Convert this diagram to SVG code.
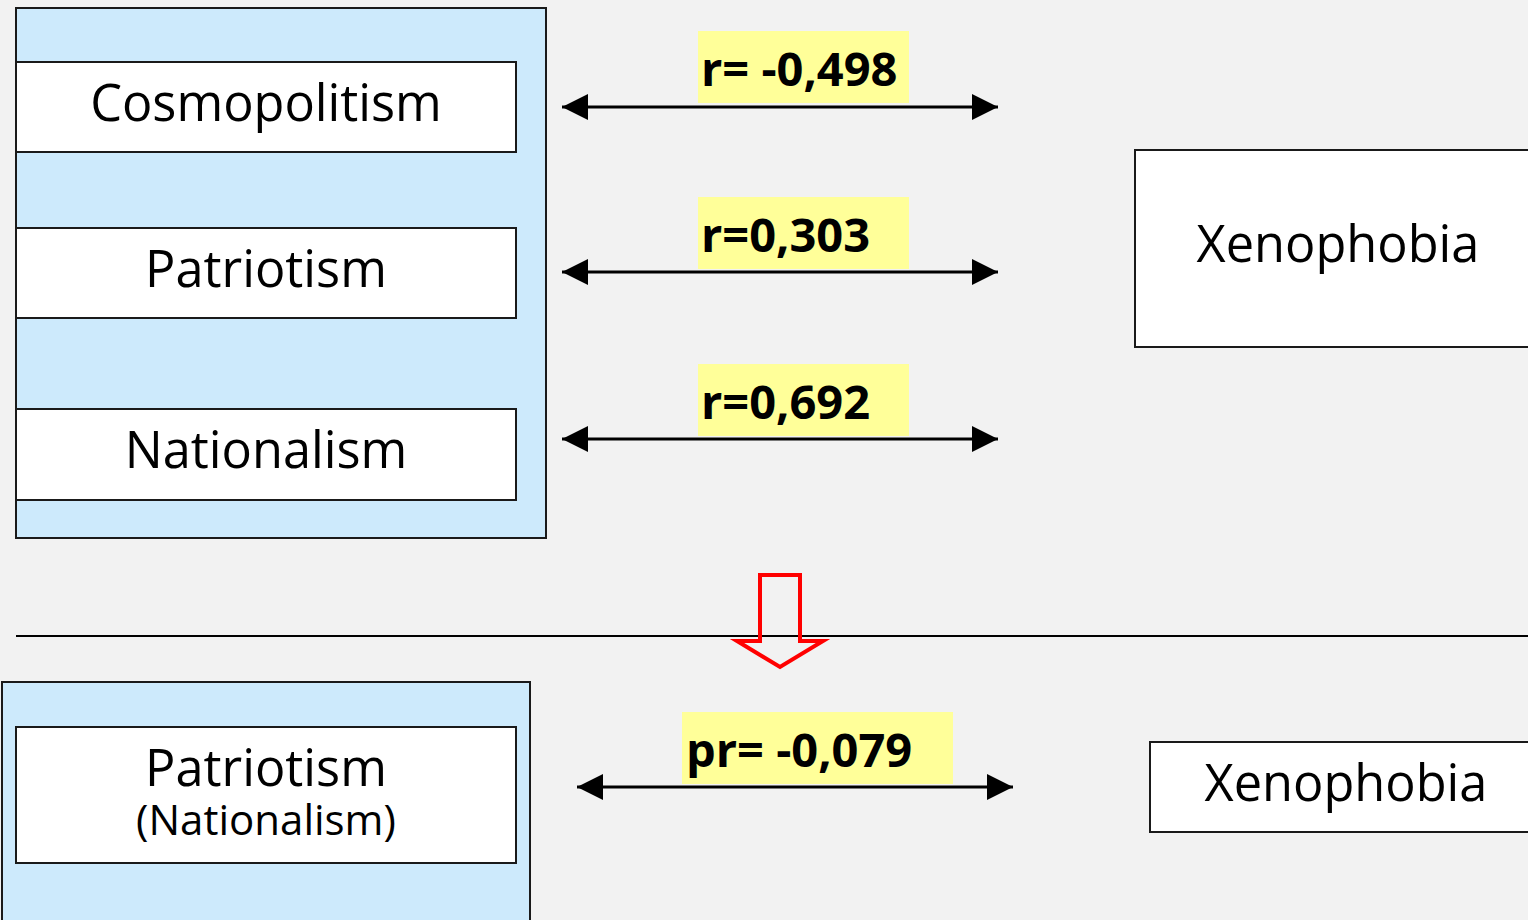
<svg xmlns="http://www.w3.org/2000/svg" width="1528" height="920" viewBox="0 0 1528 920">
<style>
.grp{fill:#cdeafc;stroke:#1a1a1a;stroke-width:2}
.box{fill:#ffffff;stroke:#1a1a1a;stroke-width:2}
.t{font-family:"Open Sans","Noto Sans",sans-serif;font-size:50.5px;fill:#000;text-anchor:middle}
.s{font-size:42px}
.lbl{fill:#ffff99}
.lt{font-family:"Open Sans","Noto Sans",sans-serif;font-size:47px;font-weight:bold;fill:#000}
.ar{stroke:#000;stroke-width:3;fill:none}
</style>
<defs>
<marker id="ah" viewBox="0 0 26 26" refX="26" refY="13" markerWidth="26" markerHeight="26" markerUnits="userSpaceOnUse" orient="auto-start-reverse">
<path d="M0,0 L26,13 L0,26 Z" fill="#000"/>
</marker>
</defs>
<rect width="1528" height="920" fill="#f2f2f2"/>
<g id="group-top">
<rect class="grp" x="16" y="8" width="530" height="530"/>
</g>
<g id="cosmopolitism">
<rect class="box" x="16" y="62" width="500" height="90"/>
<text class="t" x="266" y="121">Cosmopolitism</text>
</g>
<g id="patriotism">
<rect class="box" x="16" y="228" width="500" height="90"/>
<text class="t" x="266" y="287">Patriotism</text>
</g>
<g id="nationalism">
<rect class="box" x="16" y="409" width="500" height="91"/>
<text class="t" x="266" y="468">Nationalism</text>
</g>
<g id="xenophobia-top">
<rect class="box" x="1135" y="150" width="400" height="197"/>
<text class="t" x="1338" y="262">Xenophobia</text>
</g>
<g id="divider">
<line x1="16" y1="636" x2="1528" y2="636" stroke="#000" stroke-width="2"/>
</g>
<g id="down-arrow">
<path d="M760,575 L800,575 L800,641 L823,641 L780,667 L737,641 L760,641 Z" fill="none" stroke="#ff0000" stroke-width="4"/>
</g>
<g id="group-bottom">
<rect class="grp" x="2" y="682" width="528" height="250"/>
</g>
<g id="patriotism-nationalism">
<rect class="box" x="16" y="727" width="500" height="136"/>
<text class="t" x="266" y="786">Patriotism</text>
<text class="t s" x="266" y="835">(Nationalism)</text>
</g>
<g id="xenophobia-bottom">
<rect class="box" x="1150" y="742" width="400" height="90"/>
<text class="t" x="1346" y="801">Xenophobia</text>
</g>
<g id="connectors">
<rect class="lbl" x="698" y="31" width="211" height="72"/>
<text class="lt" x="701" y="86">r= -0,498</text>
<line class="ar" x1="562" y1="107" x2="998" y2="107" marker-start="url(#ah)" marker-end="url(#ah)"/>
<rect class="lbl" x="698" y="197" width="211" height="72"/>
<text class="lt" x="701" y="252">r=0,303</text>
<line class="ar" x1="562" y1="272" x2="998" y2="272" marker-start="url(#ah)" marker-end="url(#ah)"/>
<rect class="lbl" x="698" y="364" width="211" height="72"/>
<text class="lt" x="701" y="419">r=0,692</text>
<line class="ar" x1="562" y1="439" x2="998" y2="439" marker-start="url(#ah)" marker-end="url(#ah)"/>
<rect class="lbl" x="682" y="712" width="271" height="72"/>
<text class="lt" x="686" y="767">pr= -0,079</text>
<line class="ar" x1="577" y1="787" x2="1013" y2="787" marker-start="url(#ah)" marker-end="url(#ah)"/>
</g>
</svg>
